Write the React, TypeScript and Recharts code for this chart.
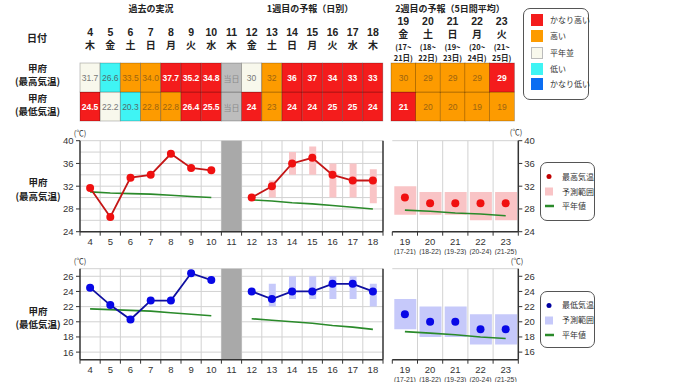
import React from 'react';
import { ComposedChart, BarChart, Bar, Line, XAxis, YAxis, CartesianGrid, ReferenceArea } from 'recharts';

const NUM_FONT = "'Liberation Sans', Arial, 'Noto Sans CJK JP', sans-serif";
const JP_FONT = "'Noto Sans CJK JP', 'Noto Sans', sans-serif";

// ---------- categories ----------
const days1 = [4, 5, 6, 7, 8, 9, 10, 11, 12, 13, 14, 15, 16, 17, 18];
const weekdays1 = ['木', '金', '土', '日', '月', '火', '水', '木', '金', '土', '日', '月', '火', '水', '木'];
const days2 = [19, 20, 21, 22, 23];
const weekdays2 = ['金', '土', '日', '月', '火'];
const periodFrom2 = [17, 18, 19, 20, 21];
const periodTo2 = [21, 22, 23, 24, 25];
const todayDay = 11;
const observedDays = 7; // 4..10 observed, shown with one decimal

// ---------- table / point values ----------
const maxValues1 = [31.7, 26.6, 33.5, 34.0, 37.7, 35.2, 34.8, null, 30, 32, 36, 37, 34, 33, 33];
const minValues1 = [24.5, 22.2, 20.3, 22.8, 22.8, 26.4, 25.5, null, 24, 23, 24, 24, 25, 25, 24];
const maxClass1 = ['n', 'l', 'h', 'h', 'vh', 'vh', 'vh', 'today', 'n', 'h', 'vh', 'vh', 'vh', 'vh', 'vh'];
const minClass1 = ['vh', 'n', 'l', 'h', 'h', 'vh', 'vh', 'today', 'vh', 'h', 'vh', 'vh', 'vh', 'vh', 'vh'];
const maxValues2 = [30, 29, 29, 29, 29];
const minValues2 = [21, 20, 20, 19, 19];
const maxClass2 = ['h', 'h', 'h', 'h', 'vh'];
const minClass2 = ['vh', 'h', 'h', 'h', 'h'];

// ---------- normals and ranges ----------
const maxNormal1 = [31.0, 30.8, 30.7, 30.6, 30.4, 30.2, 30.0, null, 29.6, 29.4, 29.1, 28.9, 28.6, 28.3, 28.0];
const maxLow1 = [null, null, null, null, null, null, null, null, null, 30, 34, 34, 30, 30, 29];
const maxHigh1 = [null, null, null, null, null, null, null, null, null, 33, 38, 39, 36, 36, 35];
const minNormal1 = [21.7, 21.6, 21.5, 21.4, 21.2, 21.0, 20.8, null, 20.4, 20.2, 20.0, 19.8, 19.5, 19.3, 19.0];
const minLow1 = [null, null, null, null, null, null, null, null, null, 22, 23, 23, 23, 23, 22];
const minHigh1 = [null, null, null, null, null, null, null, null, null, 25, 26, 26, 26, 26, 25];

const maxNormal2 = [27.8, 27.6, 27.3, 27.1, 26.8];
const maxLow2 = [27, 27, 27, 26, 26];
const maxHigh2 = [32, 31, 31, 31, 31];
const minNormal2 = [18.7, 18.5, 18.3, 18.0, 17.8];
const minLow2 = [19, 18, 18, 17, 17];
const minHigh2 = [23, 22, 22, 21, 21];

// ---------- axis ticks ----------
const maxDomain = [24, 40];
const maxGridTicks = [24, 26, 28, 30, 32, 34, 36, 38, 40];
const maxLabelTicks = [24, 28, 32, 36, 40];
const minDomain = [15, 27];
const minGridTicks = [16, 18, 20, 22, 24, 26];
const minLabelTicks = [16, 18, 20, 22, 24, 26];

const legendLevels = [
  { key: 'vh', label: 'かなり高い' },
  { key: 'h', label: '高い' },
  { key: 'n', label: '平年並' },
  { key: 'l', label: '低い' },
  { key: 'vl', label: 'かなり低い' },
];

const LEVEL_FILL: Record<string, string> = {
  vh: '#f41c1c', h: '#fd9b00', n: '#f8f8ec', l: '#3ff4f4', vl: '#0a6df2', today: '#bdbdbd',
};
const LEVEL_TEXT: Record<string, string> = {
  vh: '#ffffff', h: '#9c6410', n: '#777777', l: '#4f6d6d', vl: '#ffffff', today: '#8a8a8a',
};

const AXIS = '#333333';
const GRID = '#d2d2d2';
const GREEN = '#2a8a2a';

function T({ x, y, children, size = 9, weight = 700, color = '#222', anchor = 'middle', font = JP_FONT }: any) {
  const tx = anchor === 'middle' ? '-50%' : anchor === 'end' ? '-100%' : '0';
  return (
    <div style={{ position: 'absolute', left: x, top: y, transform: `translate(${tx}, -50%)`, fontSize: size, fontWeight: weight, color, whiteSpace: 'nowrap', lineHeight: 1, fontFamily: font }}>
      {children}
    </div>
  );
}

const fmt = (v: number | null, i: number) => (v == null ? '当日' : i < observedDays ? v.toFixed(1) : String(v));

function cellShape(labelKey: string, clsKey: string) {
  return (p: any) => {
    const { x, y, width, height, payload } = p;
    const cls = payload[clsKey];
    return (
      <g>
        <rect x={x} y={y} width={width} height={height} fill={LEVEL_FILL[cls]} stroke="rgba(0,0,0,0.28)" strokeWidth={0.8} />
        <text x={x + width / 2} y={y + height / 2 + 0.5} textAnchor="middle" dominantBaseline="central" fontSize={cls === 'today' ? 8 : 8.5}
          fontWeight={cls === 'vh' ? 700 : 400} fill={LEVEL_TEXT[cls]} fontFamily={cls === 'today' ? JP_FONT : NUM_FONT}>
          {payload[labelKey]}
        </text>
      </g>
    );
  };
}

function Table1() {
  const data = days1.map((d, i) => ({
    day: d, maxLabel: fmt(maxValues1[i], i), minLabel: fmt(minValues1[i], i),
    maxCls: maxClass1[i], minCls: minClass1[i], maxRow: 1, minRow: 1,
  }));
  const HeaderTick = (p: any) => {
    const idx = days1.indexOf(p.payload.value);
    return (
      <g>
        <text x={p.x} y={p.y - 31} textAnchor="middle" dominantBaseline="central" fontSize={10.5} fontWeight={700} fill="#222" fontFamily={NUM_FONT}>{p.payload.value}</text>
        <text x={p.x} y={p.y - 18.5} textAnchor="middle" dominantBaseline="central" fontSize={10} fontWeight={700} fill="#222" fontFamily={JP_FONT}>{weekdays1[idx]}</text>
      </g>
    );
  };
  return (
    <div style={{ position: 'absolute', left: 0, top: 0 }}>
      <BarChart width={400} height={125} data={data} margin={{ top: 18, right: 17, bottom: 4, left: 80 }} barCategoryGap={0} barGap={0}>
        <XAxis dataKey="day" orientation="top" height={45} axisLine={false} tickLine={false} tickSize={0} tickMargin={0} interval={0} tick={HeaderTick} />
        <YAxis hide domain={[0, 2]} />
        <Bar dataKey="minRow" stackId="t" isAnimationActive={false} shape={cellShape('minLabel', 'minCls')} />
        <Bar dataKey="maxRow" stackId="t" isAnimationActive={false} shape={cellShape('maxLabel', 'maxCls')} />
      </BarChart>
    </div>
  );
}

function Table2() {
  const data = days2.map((d, i) => ({
    day: d, maxLabel: String(maxValues2[i]), minLabel: String(minValues2[i]),
    maxCls: maxClass2[i], minCls: minClass2[i], maxRow: 1, minRow: 1,
  }));
  const HeaderTick = (p: any) => {
    const idx = days2.indexOf(p.payload.value);
    return (
      <g fontFamily={JP_FONT} fill="#222">
        <text x={p.x} y={p.y - 42} textAnchor="middle" dominantBaseline="central" fontSize={10.5} fontWeight={700} fontFamily={NUM_FONT}>{p.payload.value}</text>
        <text x={p.x} y={p.y - 29.5} textAnchor="middle" dominantBaseline="central" fontSize={10} fontWeight={700}>{weekdays2[idx]}</text>
        <text x={p.x} y={p.y - 17} textAnchor="middle" dominantBaseline="central" fontSize={7.5} fontWeight={700}>{`(${periodFrom2[idx]}~`}</text>
        <text x={p.x} y={p.y - 6} textAnchor="middle" dominantBaseline="central" fontSize={7.5} fontWeight={700}>{`${periodTo2[idx]}日)`}</text>
      </g>
    );
  };
  return (
    <div style={{ position: 'absolute', left: 380, top: 0 }}>
      <BarChart width={150} height={125} data={data} margin={{ top: 10, right: 16, bottom: 4, left: 11 }} barCategoryGap={0} barGap={0}>
        <XAxis dataKey="day" orientation="top" height={53} axisLine={false} tickLine={false} tickSize={0} tickMargin={0} interval={0} tick={HeaderTick} />
        <YAxis hide domain={[0, 2]} />
        <Bar dataKey="minRow" stackId="t" isAnimationActive={false} shape={cellShape('minLabel', 'minCls')} />
        <Bar dataKey="maxRow" stackId="t" isAnimationActive={false} shape={cellShape('maxLabel', 'maxCls')} />
      </BarChart>
    </div>
  );
}

function boundaryGen(bounds: number[], domain: number[]) {
  return (props: any) => {
    const xAxis = props?.xAxis;
    if (xAxis && typeof xAxis.scale === 'function') return bounds.map((b) => xAxis.scale(b));
    const off = props.offset;
    return bounds.map((b) => off.left + ((b - domain[0]) / (domain[1] - domain[0])) * off.width);
  };
}

const TopTick = (p: any) => <line x1={p.x} x2={p.x} y1={p.y} y2={p.y + 3} stroke={AXIS} strokeWidth={1} />;

function DailyPanel({ top, values, normal, low, high, domain, gridTicks, labelTicks, lineColor, dotColor, rangeColor }: any) {
  const data = days1.map((d, i) => ({
    day: d,
    value: values[i],
    normal: normal[i],
    range: low[i] != null && high[i] != null ? [low[i], high[i]] : null,
  }));
  const xDomain = [days1[0] - 0.5, days1[days1.length - 1] + 0.5];
  const bounds = days1.map((d) => d - 0.5).concat([xDomain[1]]);
  const bottomTicks = days1.flatMap((d) => [d - 0.5, d]).concat([xDomain[1]]);
  const innerBounds = bounds.slice(1, -1);
  const BottomTick = (p: any) => {
    const v = p.payload.value;
    if (Number.isInteger(v)) {
      return <text x={p.x} y={p.y + 10} textAnchor="middle" dominantBaseline="central" fontSize={9.5} fill="#333" fontFamily={NUM_FONT}>{v}</text>;
    }
    return <line x1={p.x} x2={p.x} y1={p.y} y2={p.y + 4} stroke={AXIS} strokeWidth={1} />;
  };
  const LeftTick = (p: any) => {
    const v = p.payload.value;
    if (!labelTicks.includes(v)) return <g />;
    return (
      <g>
        <line x1={p.x - 4} x2={p.x} y1={p.y} y2={p.y} stroke={AXIS} strokeWidth={1} />
        <text x={p.x - 6.5} y={p.y} textAnchor="end" dominantBaseline="central" fontSize={9.5} fill="#333" fontFamily={NUM_FONT}>{v}</text>
      </g>
    );
  };
  return (
    <div style={{ position: 'absolute', left: 0, top }}>
      <ComposedChart width={400} height={130} data={data} margin={{ top: 15.7, right: 12, bottom: 3.3, left: 40 }}>
        <CartesianGrid stroke={GRID} strokeWidth={1} verticalCoordinatesGenerator={boundaryGen(innerBounds, xDomain)} />
        <ReferenceArea x1={todayDay - 0.5} x2={todayDay + 0.5} fill="#a9a9a9" fillOpacity={1} stroke="none" />
        <XAxis dataKey="day" type="number" domain={xDomain} ticks={bottomTicks} interval={0} allowDataOverflow
          tickLine={false} tickSize={0} tickMargin={0} height={20} axisLine={{ stroke: AXIS, strokeWidth: 1.5 }} tick={BottomTick} />
        <XAxis xAxisId="top" orientation="top" dataKey="day" type="number" domain={xDomain} ticks={bounds} interval={0} allowDataOverflow
          tickLine={false} tickSize={0} tickMargin={0} height={0} axisLine={{ stroke: AXIS, strokeWidth: 2 }} tick={TopTick} />
        <YAxis domain={domain} ticks={gridTicks} interval={0} allowDataOverflow width={40} tickLine={false} tickSize={0} tickMargin={0}
          axisLine={{ stroke: AXIS, strokeWidth: 1.5 }} tick={LeftTick} />
        <YAxis yAxisId="r" orientation="right" domain={domain} ticks={labelTicks} interval={0} allowDataOverflow width={5} tickSize={4}
          tick={false} tickLine={{ stroke: AXIS }} axisLine={{ stroke: AXIS, strokeWidth: 1.5 }} />
        <Bar dataKey="range" barSize={7} fill={rangeColor} isAnimationActive={false} />
        <Line dataKey="normal" stroke={GREEN} strokeWidth={1.6} dot={false} isAnimationActive={false} />
        <Line dataKey="value" stroke={lineColor} strokeWidth={1.8} dot={{ r: 4, fill: dotColor, stroke: dotColor, strokeWidth: 0 }} isAnimationActive={false} />
      </ComposedChart>
    </div>
  );
}

function WeekPanel({ top, values, normal, low, high, domain, gridTicks, labelTicks, dotColor, rangeColor }: any) {
  const data = days2.map((d, i) => ({ day: d, value: values[i], normal: normal[i], range: [low[i], high[i]] }));
  const xDomain = [days2[0] - 0.5, days2[days2.length - 1] + 0.5];
  const bounds = days2.map((d) => d - 0.5).concat([xDomain[1]]);
  const bottomTicks = days2.flatMap((d) => [d - 0.5, d]).concat([xDomain[1]]);
  const innerBounds = bounds.slice(1, -1);
  const BottomTick = (p: any) => {
    const v = p.payload.value;
    if (Number.isInteger(v)) {
      const idx = days2.indexOf(v);
      return (
        <g fill="#333" fontFamily={NUM_FONT}>
          <text x={p.x} y={p.y + 10} textAnchor="middle" dominantBaseline="central" fontSize={9.5}>{v}</text>
          <text x={p.x} y={p.y + 19.5} textAnchor="middle" dominantBaseline="central" fontSize={6.8}>{`(${periodFrom2[idx]}-${periodTo2[idx]})`}</text>
        </g>
      );
    }
    return <line x1={p.x} x2={p.x} y1={p.y} y2={p.y + 4} stroke={AXIS} strokeWidth={1} />;
  };
  return (
    <div style={{ position: 'absolute', left: 380, top }}>
      <ComposedChart width={170} height={130} data={data} margin={{ top: 15.7, right: 1.7, bottom: 3.3, left: 12.3 }}>
        <CartesianGrid stroke={GRID} strokeWidth={1} verticalCoordinatesGenerator={boundaryGen(innerBounds, xDomain)} />
        <XAxis dataKey="day" type="number" domain={xDomain} ticks={bottomTicks} interval={0} allowDataOverflow
          tickLine={false} tickSize={0} tickMargin={0} height={20} axisLine={{ stroke: AXIS, strokeWidth: 1.5 }} tick={BottomTick} />
        <XAxis xAxisId="top" orientation="top" dataKey="day" type="number" domain={xDomain} ticks={bounds} interval={0} allowDataOverflow
          tickLine={false} tickSize={0} tickMargin={0} height={0} axisLine={{ stroke: AXIS, strokeWidth: 2 }} tick={TopTick} />
        <YAxis domain={domain} ticks={gridTicks} interval={0} allowDataOverflow width={0} tickLine={false} tick={false}
          axisLine={{ stroke: AXIS, strokeWidth: 1.5 }} />
        <YAxis yAxisId="r" orientation="right" domain={domain} ticks={labelTicks} interval={0} allowDataOverflow width={30} tickSize={4}
          tickLine={{ stroke: AXIS }} axisLine={{ stroke: AXIS, strokeWidth: 1.5 }}
          tick={{ fontSize: 9.5, fill: '#333', fontFamily: NUM_FONT }} />
        <Bar dataKey="range" barSize={22} fill={rangeColor} isAnimationActive={false} />
        <Line dataKey="normal" stroke={GREEN} strokeWidth={1.6} dot={false} isAnimationActive={false} />
        <Line dataKey="value" stroke="none" strokeWidth={0} dot={{ r: 4, fill: dotColor, stroke: dotColor, strokeWidth: 0 }} isAnimationActive={false} />
      </ComposedChart>
    </div>
  );
}

function SeriesLegend({ top, height, dotColor, rangeColor, label }: any) {
  const ys = [14.5, 29.5, 44];
  const texts = [label, '予測範囲', '平年値'];
  return (
    <div style={{ position: 'absolute', left: 540, top, width: 55, height, border: '1px solid #555', borderRadius: 7, boxSizing: 'border-box' }}>
      <svg width={55} height={height} style={{ position: 'absolute', left: -1, top: -1 }}>
        <circle cx={9} cy={ys[0]} r={2.5} fill={dotColor} />
        <rect x={5} y={ys[1] - 4} width={8} height={8} fill={rangeColor} />
        <line x1={5} x2={14} y1={ys[2]} y2={ys[2]} stroke={GREEN} strokeWidth={2.5} />
      </svg>
      {texts.map((t, i) => (
        <T key={i} x={21} y={ys[i] - 1} anchor="start" size={8} weight={400} color="#333">{t}</T>
      ))}
    </div>
  );
}

function LevelLegend() {
  const ys = [19, 35, 51.5, 67.5, 83];
  return (
    <div style={{ position: 'absolute', left: 523, top: 8, width: 66, height: 92, border: '1px solid #555', borderRadius: 7, boxSizing: 'border-box' }}>
      {legendLevels.map((lv, i) => (
        <React.Fragment key={lv.key}>
          <div style={{ position: 'absolute', left: 7, top: ys[i] - 8 - 6, width: 12, height: 12, background: LEVEL_FILL[lv.key], border: lv.key === 'n' ? '0.5px solid #bbb' : 'none', boxSizing: 'border-box' }} />
          <T x={26} y={ys[i] - 8} anchor="start" size={8} weight={400} color="#333">{lv.label}</T>
        </React.Fragment>
      ))}
    </div>
  );
}

export default function App() {
  return (
    <div style={{ position: 'absolute', left: 0, top: 0, width: 680, height: 382, background: '#fff', overflow: 'hidden', fontFamily: JP_FONT }}>
      <T x={151} y={7.5} size={9}>過去の実況</T>
      <T x={310} y={7.5} size={9}>1週目の予報（日別）</T>
      <T x={450} y={7.5} size={9}>2週目の予報（5日間平均）</T>
      <T x={37} y={38} size={10}>日付</T>
      <T x={37.5} y={69} size={9.5}>甲府</T>
      <T x={37.5} y={82} size={9.5}>(最高気温)</T>
      <T x={37.5} y={99} size={9.5}>甲府</T>
      <T x={37.5} y={112} size={9.5}>(最低気温)</T>

      <Table1 />
      <Table2 />
      <LevelLegend />

      <T x={38} y={183} size={9.5}>甲府</T>
      <T x={38} y={197} size={9.5}>(最高気温)</T>
      <T x={38} y={311.7} size={9.5}>甲府</T>
      <T x={38} y={325.3} size={9.5}>(最低気温)</T>

      <DailyPanel top={125} values={maxValues1} normal={maxNormal1} low={maxLow1} high={maxHigh1} domain={maxDomain}
        gridTicks={maxGridTicks} labelTicks={maxLabelTicks} lineColor="#c41616" dotColor="#f01010" rangeColor="#f9c4c6" />
      <WeekPanel top={125} values={maxValues2} normal={maxNormal2} low={maxLow2} high={maxHigh2} domain={maxDomain}
        gridTicks={maxGridTicks} labelTicks={maxLabelTicks} dotColor="#f01010" rangeColor="#f9c4c6" />
      <DailyPanel top={252.6} values={minValues1} normal={minNormal1} low={minLow1} high={minHigh1} domain={minDomain}
        gridTicks={minGridTicks} labelTicks={minLabelTicks} lineColor="#1010a0" dotColor="#0808e6" rangeColor="#c6c9fa" />
      <WeekPanel top={252.6} values={minValues2} normal={minNormal2} low={minLow2} high={minHigh2} domain={minDomain}
        gridTicks={minGridTicks} labelTicks={minLabelTicks} dotColor="#0808e6" rangeColor="#c6c9fa" />

      <T x={80} y={132.5} size={7.5} weight={400} color="#333">(℃)</T>
      <T x={516} y={132.3} size={7.5} weight={400} color="#333">(℃)</T>
      <T x={80} y={261} size={7.5} weight={400} color="#333">(℃)</T>
      <T x={517} y={260.7} size={7.5} weight={400} color="#333">(℃)</T>

      <SeriesLegend top={162} height={59} dotColor="#c00000" rangeColor="#f9c4c6" label="最高気温" />
      <SeriesLegend top={290.7} height={57.6} dotColor="#0000a0" rangeColor="#c6c9fa" label="最低気温" />
    </div>
  );
}
